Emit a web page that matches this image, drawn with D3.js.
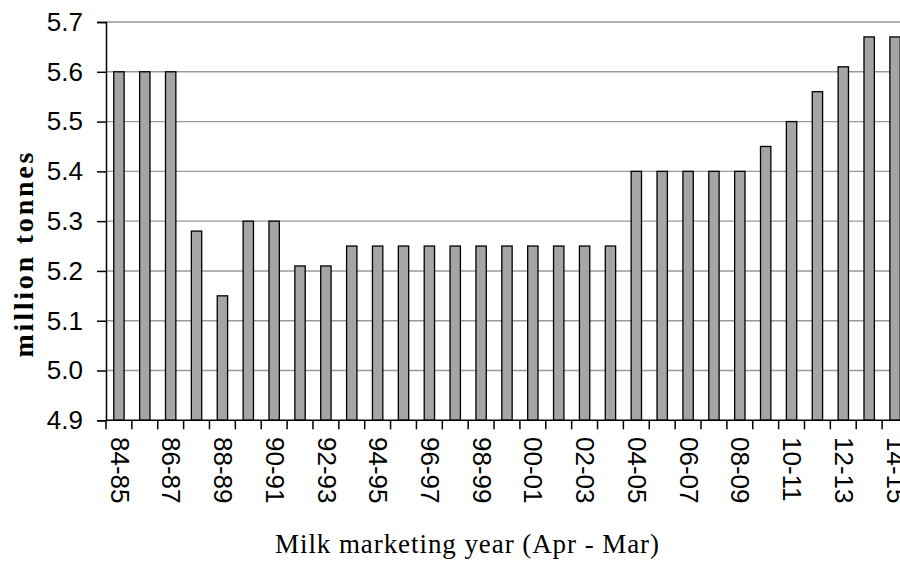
<!DOCTYPE html>
<html>
<head>
<meta charset="utf-8">
<script src="https://cdn.jsdelivr.net/npm/d3@7"></script>
<style>
    body { margin: 0; background: #fff; }
    svg { display: block; }
    .tick-label { font-family: "Liberation Sans", Arial, sans-serif; font-size: 26px; fill: #000; }
    .axis-title { font-family: "Liberation Serif", "Times New Roman", serif; fill: #000; }
</style>
</head>
<body>
<svg id="chart"></svg>
<script>
// milk marketing years, Apr - Mar
const years = ["84-85", "85-86", "86-87", "87-88", "88-89", "89-90", "90-91", "91-92",
    "92-93", "93-94", "94-95", "95-96", "96-97", "97-98", "98-99", "99-00", "00-01",
    "01-02", "02-03", "03-04", "04-05", "05-06", "06-07", "07-08", "08-09", "09-10",
    "10-11", "11-12", "12-13", "13-14", "14-15"];

// million tonnes
const quota = [5.6, 5.6, 5.6, 5.28, 5.15, 5.3, 5.3, 5.21,
    5.21, 5.25, 5.25, 5.25, 5.25, 5.25, 5.25, 5.25, 5.25,
    5.25, 5.25, 5.25, 5.4, 5.4, 5.4, 5.4, 5.4, 5.45,
    5.5, 5.56, 5.61, 5.67, 5.67];

const yTicks = [4.9, 5.0, 5.1, 5.2, 5.3, 5.4, 5.5, 5.6, 5.7];

const width = 900, height = 565;
const plotLeft = 106, plotTop = 22, plotBottom = 420.3;
const band = 25.87;

const svg = d3.select("#chart")
    .attr("width", width)
    .attr("height", height);

const x = d3.scaleBand()
    .domain(years)
    .range([plotLeft, plotLeft + band * years.length])
    .paddingInner(0.6)
    .paddingOuter(0.3);

const y = d3.scaleLinear()
    .domain([4.9, 5.7])
    .range([plotBottom, plotTop]);

// gridlines
svg.append("g")
    .selectAll("line")
    .data(yTicks.slice(1))
    .enter()
    .append("line")
    .attr("x1", plotLeft)
    .attr("x2", width)
    .attr("y1", d => y(d))
    .attr("y2", d => y(d))
    .style("stroke", "#999")
    .style("stroke-width", "1.4px");

// bars
svg.append("g")
    .selectAll("rect")
    .data(quota)
    .enter()
    .append("rect")
    .attr("x", (d, i) => x(years[i]))
    .attr("y", d => y(d))
    .attr("width", x.bandwidth())
    .attr("height", d => plotBottom - y(d))
    .style("fill", "#a5a5a5")
    .style("stroke", "#000")
    .style("stroke-width", "1.3px");

// y axis
const yAxis = d3.axisLeft(y)
    .tickValues(yTicks)
    .tickSize(9)
    .tickPadding(14)
    .tickFormat(d3.format(".1f"));

const gy = svg.append("g")
    .attr("transform", `translate(${plotLeft} 0)`)
    .call(yAxis)
    .attr("font-size", null)
    .attr("font-family", null);
gy.select(".domain").style("stroke", "#000").style("stroke-width", "1.5px");
gy.selectAll(".tick line").style("stroke", "#000").style("stroke-width", "1.5px");
gy.selectAll(".tick text").attr("class", "tick-label");

// x axis: ticks on band boundaries, labels on every other year
const xAxisG = svg.append("g");
xAxisG.append("line")
    .attr("x1", plotLeft)
    .attr("x2", plotLeft + band * years.length)
    .attr("y1", plotBottom)
    .attr("y2", plotBottom)
    .style("stroke", "#000")
    .style("stroke-width", "1.5px");

xAxisG.selectAll(".xtick")
    .data(d3.range(years.length + 1))
    .enter()
    .append("line")
    .attr("class", "xtick")
    .attr("x1", i => plotLeft + i * band)
    .attr("x2", i => plotLeft + i * band)
    .attr("y1", plotBottom)
    .attr("y2", plotBottom + 9)
    .style("stroke", "#000")
    .style("stroke-width", "1.5px");

// last label runs off the right edge, as in the original
xAxisG.selectAll(".xlabel")
    .data(years.filter((d, i) => i % 2 === 0))
    .enter()
    .append("text")
    .attr("class", "tick-label")
    .attr("transform", d => `translate(${x(d) + x.bandwidth() / 2 + 1} 437) rotate(90)`)
    .attr("dy", "0.36em")
    .text(d => d);

// axis titles
svg.append("text")
    .attr("class", "axis-title")
    .attr("transform", "translate(33 255) rotate(-90)")
    .attr("text-anchor", "middle")
    .style("font-size", "28px")
    .style("font-weight", "bold")
    .attr("textLength", 205)
    .attr("lengthAdjust", "spacing")
    .text("million  tonnes");

svg.append("text")
    .attr("class", "axis-title")
    .attr("x", 467)
    .attr("y", 553)
    .attr("text-anchor", "middle")
    .style("font-size", "27px")
    .attr("textLength", 384)
    .attr("lengthAdjust", "spacing")
    .text("Milk marketing year (Apr - Mar)");
</script>
</body>
</html>
